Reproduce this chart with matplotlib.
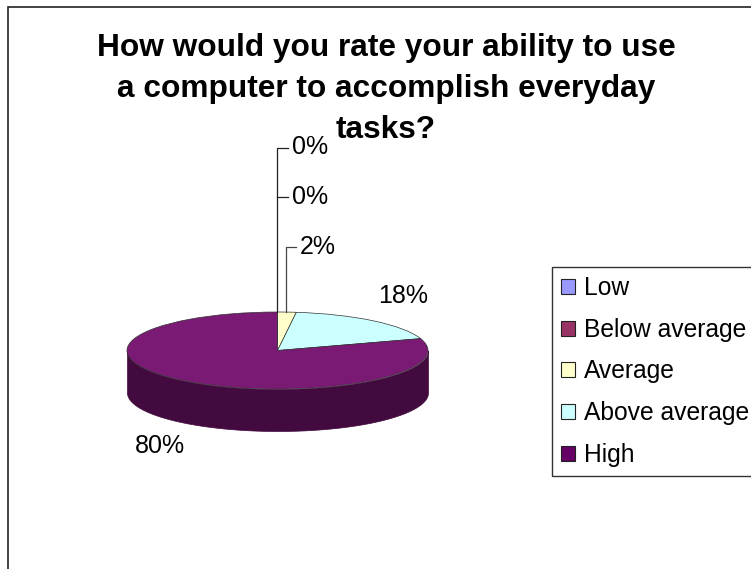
import numpy as np
import matplotlib
matplotlib.use("Agg")
import matplotlib.pyplot as plt
from matplotlib.patches import Patch

categorias = ["Low", "Below average", "Average", "Above average", "High"]
valores = [0, 0, 2, 18, 80]
rotulos = ["0%", "0%", "2%", "18%", "80%"]
cores = ["#9999FF", "#993366", "#FFFFCC", "#CCFFFF", "#7A1A74"]
cor_lateral = "#420A3E"
titulo = "How would you rate your ability to use\na computer to accomplish everyday\ntasks?"

W, H = 751, 569
plt.rcParams["font.family"] = ["Liberation Sans", "DejaVu Sans"]

fig = plt.figure(figsize=(W / 100, H / 100), dpi=100, facecolor="white")

# camada em pixels para moldura, linhas guia e textos
fundo = fig.add_axes([0, 0, 1, 1])
fundo.set_xlim(0, W)
fundo.set_ylim(H, 0)
fundo.axis("off")
fundo.plot([8, 8, W], [H, 6.5, 6.5], color="#222222", lw=1.2, solid_joinstyle="miter")

# pizza achatada: 1 unidade = 150.5 px em x e 38.5 px em y
cx, cy, rx, ry = 277.5, 350.5, 150.5, 38.5
profundidade = 42 / ry
ax = fig.add_axes([(cx - 2 * rx) / W, 1 - (cy + 4 * ry) / H, 4 * rx / W, 8 * ry / H])
ax.pie(valores, colors=cores, startangle=90, counterclock=False, radius=1,
       wedgeprops={"edgecolor": "#333333", "linewidth": 0.5})
ax.set_aspect("auto")
ax.set_xlim(-2, 2)
ax.set_ylim(-4, 4)
t = np.linspace(np.pi, 2 * np.pi, 200)
ax.fill_between(np.cos(t), np.sin(t), np.sin(t) - profundidade, color=cor_lateral,
                lw=0.5, zorder=0)
ax.patch.set_visible(False)

# linhas guia
fundo.plot([288, 277, 277], [147.5, 147.5, 312], color="#222222", lw=0.9, zorder=5)
fundo.plot([277, 288], [197, 197], color="#222222", lw=0.9, zorder=5)
fundo.plot([296, 285.5, 285.5], [247, 247, 312], color="#444444", lw=0.9, zorder=5)
ax.set_zorder(1)
fundo.set_zorder(2)

linhas = titulo.split("\n")
for linha, y in zip(linhas, [56, 96.5, 138]):
    fundo.text(386, y, linha, ha="center", va="baseline", fontsize=22.8, fontweight="bold")

posicoes = [(292, 147), (292, 197), (300, 247), (378, 296), (135, 446)]
for rotulo, (x, y) in zip(rotulos, posicoes):
    fundo.text(x, y, rotulo, ha="left", va="center", fontsize=18)

# legenda
cores_legenda = ["#9999FF", "#993366", "#FFFFCC", "#CCFFFF", "#660066"]
handles = [Patch(facecolor=c, edgecolor="#222222", lw=0.8) for c in cores_legenda]
leg = fig.legend(handles, categorias, loc="upper left",
                 bbox_to_anchor=(552 / W, 1 - 267 / H), bbox_transform=fig.transFigure,
                 fontsize=17.7, frameon=True, fancybox=False, edgecolor="#333333",
                 borderaxespad=0, borderpad=0.37, labelspacing=0.72, handlelength=0.57,
                 handleheight=0.57, handletextpad=0.36, framealpha=1)
leg.get_frame().set_linewidth(1.0)

fig.savefig("out.png", dpi=100)
